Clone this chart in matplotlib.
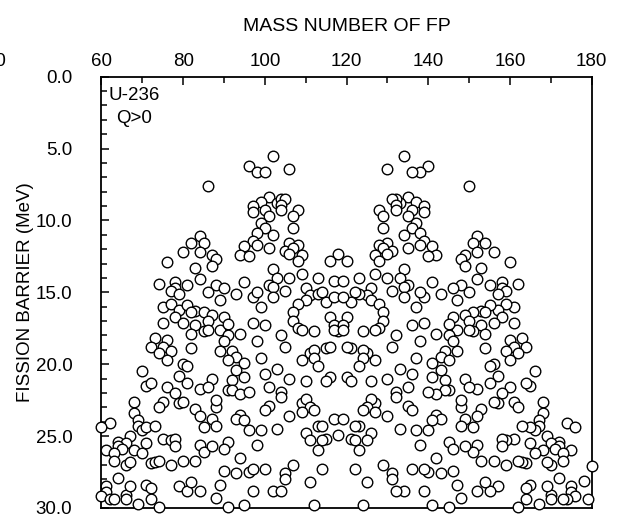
import numpy as np
import matplotlib.pyplot as plt
from matplotlib.ticker import MultipleLocator

plt.rcParams['font.family'] = ['Liberation Sans', 'DejaVu Sans']

# light fragment mass number and fission barrier (MeV), U-236 channels with Q>0
light_a = np.array([
    86, 84, 82, 85, 84, 80, 87, 88, 76, 102,
    96, 98, 100, 106, 101, 99, 97, 97, 100, 103,
    104, 105, 104, 104, 108, 101, 107, 99, 100, 98,
    102, 107, 97, 98, 95, 101, 94, 96, 106, 105,
    108, 107, 106, 109, 108, 118, 116, 83, 87, 74,
    78, 78, 81, 84, 88, 77, 79, 86, 89, 75,
    77, 79, 81, 83, 85, 87, 82, 78, 80, 83,
    86, 90, 75, 85, 86, 82, 89, 73, 76, 72,
    75, 74, 77, 76, 82, 89, 80, 81, 70, 79,
    87, 102, 103, 106, 109, 113, 117, 95, 90, 93,
    97, 98, 101, 102, 102, 105, 99, 110, 111, 113,
    114, 110, 108, 115, 117, 107, 107, 108, 109, 112,
    116, 117, 118, 117, 91, 97, 100, 94, 91, 90,
    98, 104, 105, 92, 93, 91, 95, 93, 95, 92,
    99, 100, 103, 106, 109, 111, 112, 112, 113, 115,
    116, 116, 115, 110, 71, 72, 76, 81, 84, 86,
    78, 79, 80, 75, 74, 68, 68, 83, 84, 88,
    88, 69, 69, 70, 71, 73, 62, 60, 85, 87,
    88, 67, 64, 66, 64, 65, 61, 63, 63, 66,
    67, 68, 70, 71, 75, 77, 78, 78, 72, 73,
    74, 77, 80, 83, 84, 85, 87, 64, 61, 61,
    60, 62, 63, 66, 67, 66, 69, 71, 72, 72,
    74, 79, 81, 82, 84, 88, 89, 91, 92, 94,
    96, 101, 104, 104, 101, 100, 109, 110, 111, 112,
    109, 106, 94, 93, 95, 96, 99, 103, 110, 111,
    113, 114, 117, 118, 115, 114, 113, 98, 91, 90,
    94, 90, 93, 96, 97, 100, 105, 105, 107, 114,
    111, 97, 102, 104, 91, 95, 112,
])
light_b = np.array([
    7.6, 11.1, 11.6, 11.6, 12.2, 12.2, 12.4, 12.7, 12.9, 5.5,
    6.2, 6.6, 6.6, 6.4, 8.4, 8.7, 9.0, 9.4, 9.3, 8.8,
    8.5, 8.5, 8.9, 9.3, 9.3, 9.7, 9.7, 10.2, 10.5, 10.9,
    11.0, 10.5, 11.4, 11.7, 11.8, 11.9, 12.4, 12.5, 11.6, 12.1,
    11.7, 11.9, 12.3, 12.4, 12.8, 12.3, 12.8, 13.3, 13.2, 14.4,
    14.3, 14.7, 14.5, 14.1, 14.5, 14.9, 15.1, 15.0, 15.5, 16.0,
    15.8, 16.2, 15.9, 16.3, 16.4, 16.6, 16.4, 16.7, 17.1, 17.3,
    17.0, 16.7, 17.1, 17.7, 17.6, 17.9, 17.6, 18.2, 18.3, 18.8,
    18.8, 19.2, 19.1, 19.7, 18.9, 19.1, 20.0, 20.1, 20.5, 20.8,
    21.0, 13.4, 14.0, 14.0, 13.7, 14.0, 14.2, 14.3, 14.7, 15.1,
    15.3, 15.0, 14.5, 14.6, 15.3, 14.9, 16.0, 14.7, 15.2, 15.1,
    15.0, 15.5, 15.8, 15.7, 15.3, 16.4, 17.0, 17.5, 17.6, 17.7,
    16.7, 17.3, 17.7, 17.6, 17.2, 17.1, 17.3, 17.9, 18.0, 18.4,
    18.4, 18.0, 18.8, 19.1, 19.5, 19.7, 19.9, 20.4, 20.9, 21.1,
    19.6, 20.7, 20.3, 21.0, 19.7, 19.2, 19.0, 19.6, 20.1, 18.9,
    18.8, 20.9, 21.2, 21.2, 21.5, 21.3, 21.6, 21.3, 21.7, 21.6,
    22.0, 22.7, 22.6, 22.6, 23.0, 22.6, 23.4, 23.1, 23.6, 23.0,
    22.5, 23.9, 24.3, 24.6, 24.4, 24.3, 24.1, 24.4, 24.4, 23.8,
    24.3, 25.0, 25.4, 25.5, 25.7, 25.9, 26.0, 26.2, 26.7, 27.0,
    26.8, 26.0, 26.2, 25.5, 25.2, 25.3, 25.2, 25.7, 26.9, 26.8,
    26.7, 27.0, 26.7, 26.7, 25.6, 26.1, 25.7, 27.9, 28.5, 28.9,
    29.2, 29.4, 29.4, 29.1, 28.5, 29.4, 29.7, 28.4, 28.6, 29.4,
    29.9, 28.5, 28.8, 28.2, 28.8, 29.3, 28.4, 21.8, 21.8, 22.1,
    21.9, 21.6, 21.9, 22.3, 22.9, 23.2, 22.7, 22.4, 23.0, 23.2,
    23.3, 23.6, 23.5, 23.8, 23.9, 24.6, 24.6, 24.5, 24.8, 25.3,
    24.3, 24.3, 23.8, 24.9, 25.2, 25.3, 26.0, 25.6, 25.4, 25.9,
    26.5, 27.4, 27.6, 27.5, 27.3, 27.3, 27.6, 28.0, 27.0, 27.3,
    28.2, 28.8, 28.8, 28.8, 29.9, 29.8, 29.8,
])

# heavy fragments whose light partner lies below A = 60
edge_a = [180, 178, 179]
edge_b = [27.1, 28.1, 29.4]

# heavy partner of each split: A_heavy = 236 - A_light
keep = light_a < 118
mass = np.concatenate([light_a, 236 - light_a[keep], edge_a])
barrier = np.concatenate([light_b, light_b[keep], edge_b])

fig = plt.figure(figsize=(6.17, 5.2), dpi=100)
ax = fig.add_axes([0.1645, 0.0231, 0.7945, 0.8294])

ax.scatter(mass, barrier, s=58, facecolors='white', edgecolors='black',
           linewidths=1.0, clip_on=False, zorder=3)

ax.set_xlim(60, 180)
ax.set_ylim(30, 0)

ax.xaxis.tick_top()
ax.xaxis.set_label_position('top')
ax.set_xticks(np.arange(60, 181, 20))
ax.xaxis.set_minor_locator(MultipleLocator(10))
ax.set_yticks(np.arange(0, 31, 5))
ax.set_yticklabels([f'{v:.1f}' for v in np.arange(0, 31, 5)])
ax.yaxis.set_minor_locator(MultipleLocator(1))

ax.tick_params(axis='x', which='both', direction='in', top=True, bottom=False,
               labelsize=13.5, pad=5)
ax.tick_params(axis='x', which='major', length=6, width=1.1)
ax.tick_params(axis='x', which='minor', length=4, width=1.1)
ax.tick_params(axis='y', which='both', direction='in', left=True, right=False,
               labelsize=13.5, pad=21)
ax.tick_params(axis='y', which='major', length=6, width=1.1)
ax.tick_params(axis='y', which='minor', length=4, width=1.1)

for sp in ax.spines.values():
    sp.set_linewidth(1.3)

ax.set_xlabel('MASS NUMBER OF FP', fontsize=14, labelpad=16)
ax.set_ylabel('FISSION BARRIER (MeV)', fontsize=13.5, va='center')
ax.yaxis.set_label_coords(-0.155, 0.5)

ax.text(68, 2.1, 'U-236\nQ>0', fontsize=13.5, ha='center', va='center',
        linespacing=1.5)

# leftover tick label cut by the figure edge
fig.text(6 / 617, 1 - 62 / 520, '40', fontsize=13.5, ha='right', va='center')

fig.savefig('out.png', dpi=100)
